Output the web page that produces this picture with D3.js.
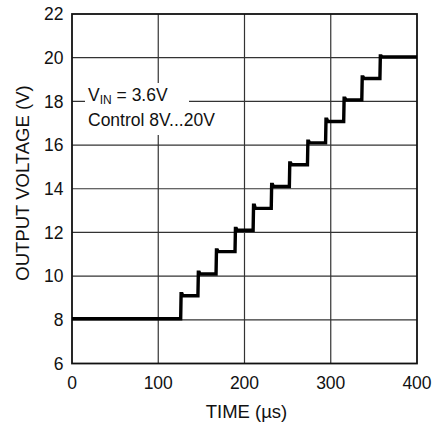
<!doctype html>
<html lang="en">
<head>
  <meta charset="utf-8">
  <title>Output Voltage vs Time</title>
  <style>
    body { margin: 0; background: #fff; }
    svg { display: block; font-family: "Liberation Sans", Arial, sans-serif; }
    .grid line { stroke: #333; stroke-width: 1.2; }
    .tick-label { font-size: 17.5px; fill: #111; }
    .title { font-size: 18.5px; fill: #111; }
    .note { font-size: 17.5px; fill: #111; }
  </style>
</head>
<body>
<svg id="chart" width="435" height="425"></svg>

<script src="https://cdn.jsdelivr.net/npm/d3@7"></script>
<script>
// step edges (µs) and the level (V) the output settles at after each edge
var stepTimes  = [0, 126, 146, 167, 189, 210, 231, 252, 273, 294, 315, 336, 357];
var stepLevels = [8.05, 9.1, 10.1, 11.12, 12.1, 13.1, 14.1, 15.1, 16.1, 17.08, 18.07, 19.05, 20.03];
var stepPeaks  = [8.05, 9.2, 10.18, 11.2, 12.18, 13.25, 14.2, 15.18, 16.18, 17.18, 18.15, 19.12, 20.08];
var endTime = 400;

var xTicks = [0, 100, 200, 300, 400];
var yTicks = [6, 8, 10, 12, 14, 16, 18, 20, 22];

var svg = d3.select("#chart");
var pLeft = 72, pRight = 417, pTop = 14, pBottom = 363.5;

var x = d3.scaleLinear().domain([0, 400]).range([pLeft, pRight]);
var y = d3.scaleLinear().domain([6, 22]).range([pBottom, pTop]);

// grid
var grid = svg.append("g").attr("class", "grid");
grid.selectAll(".vx").data(xTicks.slice(1, -1)).enter().append("line")
  .attr("x1", function (d) { return x(d); }).attr("x2", function (d) { return x(d); })
  .attr("y1", pTop).attr("y2", pBottom);
grid.selectAll(".hy").data(yTicks.slice(1, -1)).enter().append("line")
  .attr("x1", pLeft).attr("x2", pRight)
  .attr("y1", function (d) { return y(d); }).attr("y2", function (d) { return y(d); });

// frame
svg.append("rect")
  .attr("x", pLeft).attr("y", pTop)
  .attr("width", pRight - pLeft).attr("height", pBottom - pTop)
  .attr("fill", "none").attr("stroke", "#111").attr("stroke-width", 1.8);

// tick labels
svg.selectAll(".xl").data(xTicks).enter().append("text")
  .attr("class", "tick-label")
  .attr("x", function (d) { return x(d); })
  .attr("y", 389)
  .attr("text-anchor", "middle")
  .text(function (d) { return d; });

svg.selectAll(".yl").data(yTicks).enter().append("text")
  .attr("class", "tick-label")
  .attr("x", 63.5)
  .attr("y", function (d) { return y(d); })
  .attr("dy", "0.36em")
  .attr("text-anchor", "end")
  .text(function (d) { return d; });

// axis titles
svg.append("text").attr("class", "title")
  .attr("x", 246.5).attr("y", 418)
  .attr("text-anchor", "middle")
  .text("TIME (µs)");

svg.append("text").attr("class", "title")
  .attr("transform", "translate(28.5,183) rotate(-90)")
  .attr("text-anchor", "middle")
  .text("OUTPUT VOLTAGE (V)");

// staircase trace
var pts = [];
stepTimes.forEach(function (t, i) {
  if (i === 0) {
    pts.push([t, stepLevels[i]]);
    return;
  }
  pts.push([t, stepLevels[i - 1]]);
  pts.push([t + 0.5, stepPeaks[i]]);
  pts.push([t + 1.5, stepPeaks[i]]);
  pts.push([t + 2.5, stepLevels[i]]);
});
pts.push([endTime, stepLevels[stepLevels.length - 1]]);

var line = d3.line()
  .x(function (d) { return x(d[0]); })
  .y(function (d) { return y(d[1]); });

svg.append("path")
  .datum(pts)
  .attr("d", line)
  .attr("fill", "none")
  .attr("stroke", "#000")
  .attr("stroke-width", 3.4)
  .attr("stroke-linejoin", "miter");

// annotation with white backing
svg.append("rect")
  .attr("x", 85).attr("y", 83)
  .attr("width", 104).attr("height", 52)
  .attr("fill", "#fff");

var note = svg.append("text").attr("class", "note").attr("x", 88).attr("y", 100.5);
note.append("tspan").text("V");
note.append("tspan").attr("dy", 3).style("font-size", "12px").text("IN");
note.append("tspan").attr("dy", -3).text(" = 3.6V");

svg.append("text").attr("class", "note")
  .attr("x", 88).attr("y", 125.5)
  .text("Control 8V...20V");
</script>
</body>
</html>
